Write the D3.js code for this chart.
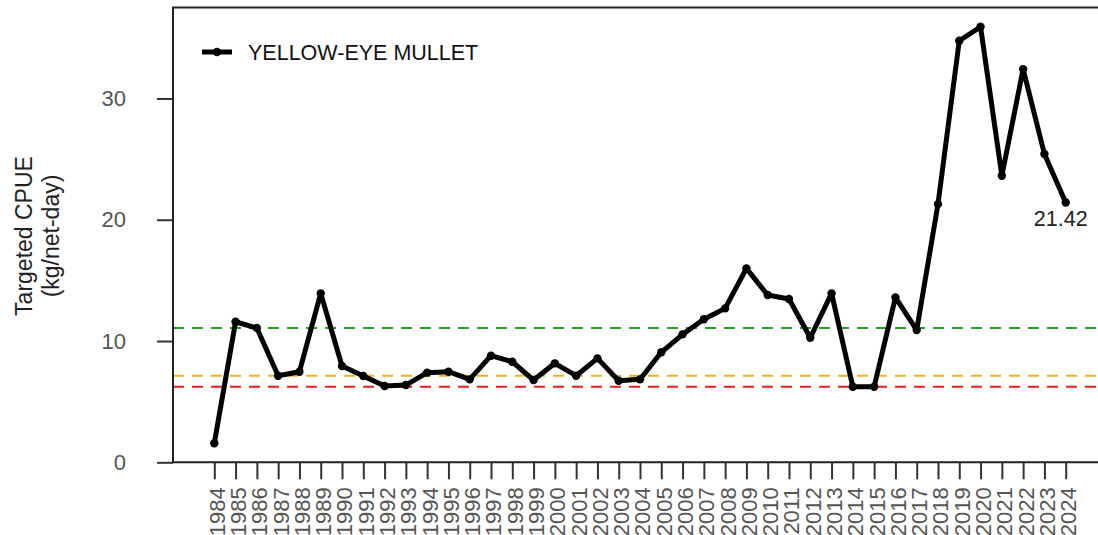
<!DOCTYPE html>
<html>
<head>
<meta charset="utf-8">
<script src="https://cdn.jsdelivr.net/npm/d3@7"></script>
<style>
  html, body { margin: 0; padding: 0; background: #fff; }
  svg { display: block; font-family: "Liberation Sans", Arial, Helvetica, sans-serif; }
</style>
</head>
<body>
<svg id="chart" width="1098" height="535"></svg>
<script>
// Yellow-eye mullet targeted catch per unit effort, 1984–2024
const years = d3.range(1984, 2025);
const cpue = [
  1.57, 11.59, 11.07, 7.14, 7.47, 13.93, 7.94, 7.11, 6.29, 6.37,
  7.39, 7.47, 6.84, 8.79, 8.29, 6.78, 8.16, 7.14, 8.57, 6.73,
  6.84, 9.07, 10.55, 11.79, 12.69, 15.99, 13.79, 13.46, 10.27, 13.93,
  6.23, 6.23, 13.60, 10.90, 21.29, 34.76, 35.91, 23.63, 32.42, 25.42,
  21.42
];
const yTicks = [0, 10, 20, 30];
const seriesName = "YELLOW-EYE MULLET";
const yTitleLines = ["Targeted CPUE", "(kg/net-day)"];

// Reference levels (dashed)
const refNames = ["target", "trigger", "limit"];
const refValues = [11.07, 7.14, 6.23];
const refColors = ["#22a022", "#f2b01e", "#ee1c1c"];

const W = 1098, H = 535;
const plotLeft = 173, plotTop = 7.5, plotBottom = 462.3;

const svg = d3.select("#chart");

const x = d3.scaleLinear().domain([1984, 2024]).range([214.3, 1065.7]);
const y = d3.scaleLinear().domain([0, 37.5]).range([plotBottom, plotTop]);

// Reference lines
svg.append("g").selectAll("line")
  .data(refValues)
  .join("line")
  .attr("x1", plotLeft).attr("x2", W)
  .attr("y1", d => y(d)).attr("y2", d => y(d))
  .attr("stroke", (d, i) => refColors[i])
  .attr("stroke-width", 2)
  .attr("stroke-dasharray", "11,8");

// Y axis
const yAxis = svg.append("g")
  .attr("transform", `translate(${plotLeft},0)`)
  .call(d3.axisLeft(y).tickValues(yTicks).tickSize(16).tickPadding(31).tickFormat(d3.format("d")));
yAxis.select(".domain").remove();
yAxis.selectAll(".tick line").attr("stroke", "#333").attr("stroke-width", 2);
yAxis.selectAll(".tick text")
  .attr("fill", "#555").attr("font-size", 22)
  .attr("font-family", "Liberation Sans, Arial, sans-serif");

// X axis
const xAxis = svg.append("g")
  .attr("transform", `translate(0,${plotBottom})`)
  .call(d3.axisBottom(x).tickValues(years).tickSize(17).tickFormat(d3.format("d")));
xAxis.select(".domain").remove();
xAxis.selectAll(".tick line").attr("stroke", "#333").attr("stroke-width", 2);
xAxis.selectAll(".tick text")
  .attr("fill", "#555").attr("font-size", 22)
  .attr("font-family", "Liberation Sans, Arial, sans-serif")
  .attr("text-anchor", "end")
  .attr("transform", "rotate(-90)")
  .attr("x", -25).attr("y", 2).attr("dy", "0.36em");

// Frame: left, bottom, top
svg.append("path")
  .attr("d", `M${W},${plotTop}H${plotLeft}V${plotBottom}H${W}`)
  .attr("fill", "none").attr("stroke", "#222").attr("stroke-width", 2);

// Y title
const yTitle = svg.append("text")
  .attr("transform", `translate(0,${236}) rotate(-90)`)
  .attr("text-anchor", "middle")
  .attr("font-size", 23)
  .attr("fill", "#222");
yTitle.selectAll("tspan")
  .data(yTitleLines)
  .join("tspan")
  .attr("x", 0)
  .attr("y", (d, i) => 32 + i * 27)
  .text(d => d);

// Series line and points
const line = d3.line().x((d, i) => x(years[i])).y(d => y(d));
svg.append("path")
  .datum(cpue)
  .attr("d", line)
  .attr("fill", "none")
  .attr("stroke", "#000")
  .attr("stroke-width", 5)
  .attr("stroke-linejoin", "round");
svg.append("g").selectAll("circle")
  .data(cpue)
  .join("circle")
  .attr("cx", (d, i) => x(years[i]))
  .attr("cy", d => y(d))
  .attr("r", 4.2)
  .attr("fill", "#000");

// Final value label
const lastIdx = cpue.length - 1;
svg.append("text")
  .attr("x", x(years[lastIdx]) - 5)
  .attr("y", y(cpue[lastIdx]) + 23)
  .attr("text-anchor", "middle")
  .attr("font-size", 21.5)
  .attr("fill", "#222")
  .text(d3.format(".2f")(cpue[lastIdx]));

// Legend
const lg = svg.append("g").attr("transform", "translate(202,52)");
lg.append("line").attr("x1", 0).attr("x2", 30).attr("y1", 0).attr("y2", 0)
  .attr("stroke", "#000").attr("stroke-width", 5);
lg.append("circle").attr("cx", 15).attr("cy", 0).attr("r", 4.2).attr("fill", "#000");
lg.append("text").attr("x", 46).attr("y", 0).attr("dy", "0.36em")
  .attr("font-size", 21.5).attr("fill", "#111").text(seriesName);
</script>
</body>
</html>
